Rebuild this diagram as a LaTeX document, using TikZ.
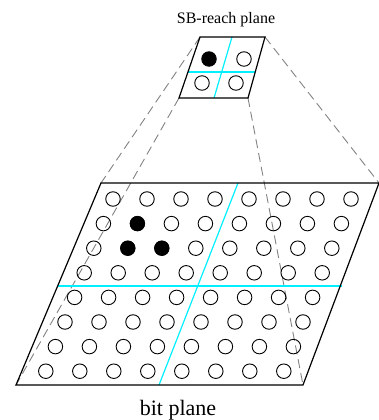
\documentclass[tikz,border=0pt]{standalone}
\usepackage{fontspec}
\setmainfont{Liberation Serif}
\usetikzlibrary{positioning}
\definecolor{splitcyan}{RGB}{0,240,255}
\definecolor{projgray}{RGB}{130,130,130}

\begin{document}
\begin{tikzpicture}[x=1pt, y=-1pt,
  plane/.style={draw, line width=1.2pt, line join=miter},
  split/.style={draw=splitcyan, line width=1.2pt},
  proj/.style={draw=projgray, dash pattern=on 9pt off 5pt, line width=0.9pt},
  bitdot/.style={circle, draw, line width=0.9pt, minimum size=14.5pt, inner sep=0pt}]
  \useasboundingbox (0,0) rectangle (379,420);

  \coordinate (stl) at (200,37);
  \coordinate (str) at (265,37);
  \coordinate (sbr) at (248,98);
  \coordinate (sbl) at (179,98);
  \coordinate (btl) at (101,183);
  \coordinate (btr) at (379,183);
  \coordinate (bbr) at (303,385);
  \coordinate (bbl) at (16,385);

  \coordinate (sml) at (188,72);
  \coordinate (smr) at (255,72);
  \coordinate (smt) at (232,37);
  \coordinate (smb) at (214,98);
  \coordinate (bml) at (58,286);
  \coordinate (bmr) at (342,286);
  \coordinate (bmt) at (238,183);
  \coordinate (bmb) at (159,385);

  \draw[proj] (stl) -- (btl);
  \draw[proj] (sbl) -- (bbl);
  \draw[proj] (str) -- (btr);
  \draw[proj] (sbr) -- (bbr);

  \draw[split] (sml) -- (smr);
  \draw[split] (smt) -- (smb);
  \draw[split] (bml) -- (bmr);
  \draw[split] (bmt) -- (bmb);

  \draw[plane] (stl) -- (str) -- (sbr) -- (sbl) -- cycle;
  \draw[plane] (btl) -- (btr) -- (bbr) -- (bbl) -- cycle;

  \node[bitdot, fill=black] (s00) at (209,59) {};
  \node[bitdot] (s01) at (244,59) {};
  \node[bitdot] (s10) at (202,83) {};
  \node[bitdot] (s11) at (236,83) {};

  \foreach \r in {0,...,7}
    \foreach \c in {0,...,7}
      \node[bitdot] (b\r\c) at ({113+34*\c-9.6*\r},{199+24.6*\r}) {};
  \foreach \r/\c in {1/1, 2/1, 2/2}
    \fill (b\r\c) circle (7.5pt);

  \node[anchor=base, font=\fontsize{16}{16}\selectfont] (sbtitle) at (226,24) {SB-reach plane};
  \node[anchor=base, font=\fontsize{22}{22}\selectfont] (bittitle) at (178,415) {bit plane};
\end{tikzpicture}
\end{document}
